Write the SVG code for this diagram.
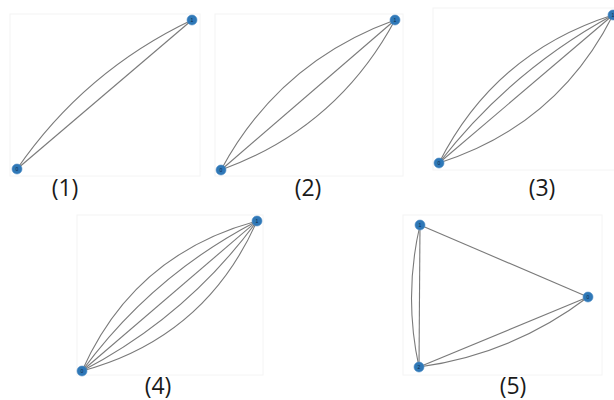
<svg xmlns="http://www.w3.org/2000/svg" width="614" height="400" viewBox="0 0 614 400">
<style>
.frame{fill:none;stroke:#f4f4f4;stroke-width:1}
.e{fill:none;stroke:#7a7a7a;stroke-width:1.1}
.n{fill:#2f78b7;stroke:#4d8cc4;stroke-width:0.6}
.nl{font-family:"Liberation Sans",Arial,sans-serif;font-size:5px;fill:#0d2a4a;text-anchor:middle}
.cap{font-family:"Open Sans","Liberation Sans",Arial,sans-serif;font-size:23px;fill:#1a1a1a;text-anchor:middle}
</style>
<rect width="614" height="400" fill="#ffffff"/>
<g id="frames">
<rect class="frame" x="10" y="14" width="190" height="162"/>
<rect class="frame" x="215" y="14" width="188" height="162"/>
<rect class="frame" x="433" y="8" width="190" height="162"/>
<rect class="frame" x="77" y="215" width="186" height="160"/>
<rect class="frame" x="403" y="215" width="199" height="160"/>
</g>
<g id="connectors">
<line class="e" x1="17" y1="169" x2="192" y2="20"/>
<path class="e" d="M17,169 Q84.5,71 192,20"/>
<line class="e" x1="221" y1="170" x2="395" y2="20"/>
<path class="e" d="M221,170 Q279.3,61.7 395,20"/>
<path class="e" d="M221,170 Q336.7,128.3 395,20"/>
<line class="e" x1="439" y1="163" x2="613" y2="15"/>
<path class="e" d="M439,163 Q494.9,52.4 613,15"/>
<path class="e" d="M439,163 Q510.4,70.7 613,15"/>
<path class="e" d="M439,163 Q557.1,125.6 613,15"/>
<line class="e" x1="82" y1="371" x2="257" y2="221"/>
<path class="e" d="M82,371 Q133.7,254.2 257,221"/>
<path class="e" d="M82,371 Q151.9,275.5 257,221"/>
<path class="e" d="M82,371 Q187.1,316.5 257,221"/>
<path class="e" d="M82,371 Q205.3,337.8 257,221"/>
<line class="e" x1="420" y1="225" x2="588" y2="297"/>
<line class="e" x1="420" y1="225" x2="419" y2="367"/>
<path class="e" d="M420,225 Q403.5,296 419,367"/>
<line class="e" x1="419" y1="367" x2="588" y2="297"/>
<path class="e" d="M419,367 Q512.7,354.2 588,297"/>
</g>
<g id="p1-n0"><circle class="n" cx="17" cy="169" r="5"/><text class="nl" x="17" y="170.8">0</text></g>
<g id="p1-n1"><circle class="n" cx="192" cy="20" r="5"/><text class="nl" x="192" y="21.8">1</text></g>
<g id="p2-n0"><circle class="n" cx="221" cy="170" r="5"/><text class="nl" x="221" y="171.8">0</text></g>
<g id="p2-n1"><circle class="n" cx="395" cy="20" r="5"/><text class="nl" x="395" y="21.8">1</text></g>
<g id="p3-n0"><circle class="n" cx="439" cy="163" r="5"/><text class="nl" x="439" y="164.8">0</text></g>
<g id="p3-n1"><circle class="n" cx="613" cy="15" r="5"/><text class="nl" x="613" y="16.8">1</text></g>
<g id="p4-n0"><circle class="n" cx="82" cy="371" r="5"/><text class="nl" x="82" y="372.8">0</text></g>
<g id="p4-n1"><circle class="n" cx="257" cy="221" r="5"/><text class="nl" x="257" y="222.8">1</text></g>
<g id="p5-n1"><circle class="n" cx="420" cy="225" r="5"/><text class="nl" x="420" y="226.8">1</text></g>
<g id="p5-n0"><circle class="n" cx="588" cy="297" r="5"/><text class="nl" x="588" y="298.8">0</text></g>
<g id="p5-n2"><circle class="n" cx="419" cy="367" r="5"/><text class="nl" x="419" y="368.8">2</text></g>
<g id="captions">
<text class="cap" x="65" y="196">(1)</text>
<text class="cap" x="308" y="196">(2)</text>
<text class="cap" x="542" y="196">(3)</text>
<text class="cap" x="158" y="394">(4)</text>
<text class="cap" x="513" y="394">(5)</text>
</g>
</svg>
